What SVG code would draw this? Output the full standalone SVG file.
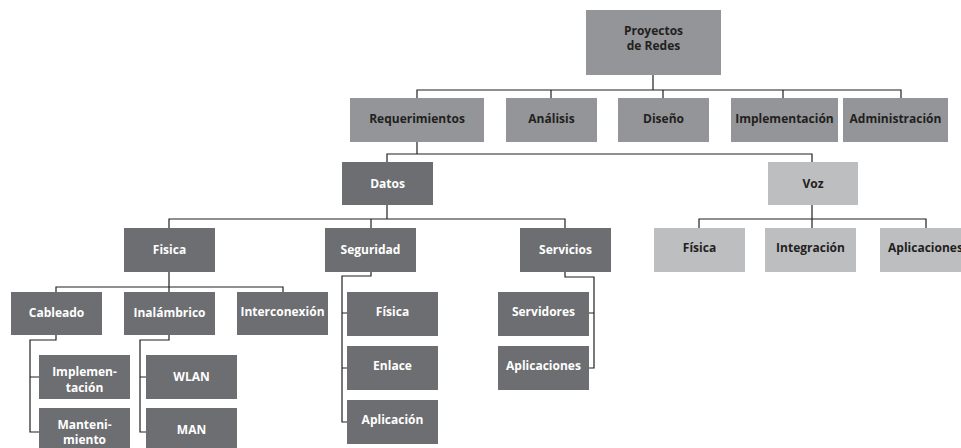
<svg xmlns="http://www.w3.org/2000/svg" width="961" height="448" viewBox="0 0 961 448">
<style>
  .mid { fill: #939598; }
  .dark { fill: #6d6e71; }
  .light { fill: #bcbec0; }
  text { font-family: "Open Sans", "Noto Sans", "Liberation Sans", sans-serif; font-weight: bold; font-size: 12px; text-anchor: middle; }
  .tb { fill: #231f20; }
  .tw { fill: #ffffff; }
  .conn { fill: none; stroke: #231f20; stroke-width: 1.2; }
</style>
<rect width="961" height="448" fill="#ffffff"/>
<g id="connectors" class="conn">
  <path d="M653,75 V90 M417,98 V90 H901 V98 M551,90 V98 M663,90 V98 M783,90 V98"/>
  <path d="M417,142 V154 M387,162 V154 H812 V162"/>
  <path d="M387,205 V219 M169,228 V219 H565 V228 M371,219 V228"/>
  <path d="M812,205 V219 M699,228 V219 H926 V228 M812,219 V228"/>
  <path d="M169,271 V287 M56,292 V287 H283 V292 M169,287 V292"/>
  <path d="M56,335 V340 H30 V432 H39 M30,377 H39"/>
  <path d="M169,335 V340 H140 V432 H146 M140,377 H146"/>
  <path d="M371,272 V276 H342 V422 H347 M342,313 H347 M342,368 H347"/>
  <path d="M565,272 V277 H594 V368 H589 M594,313 H589"/>
</g>
<g id="proyectos"><rect class="mid" x="586" y="10" width="135" height="65"/><text class="tb" x="653.5" y="34.5">Proyectos</text><text class="tb" x="653.5" y="50">de Redes</text></g>
<g id="requerimientos"><rect class="mid" x="350" y="98" width="134" height="44"/><text class="tb" x="417" y="123">Requerimientos</text></g>
<g id="analisis"><rect class="mid" x="506" y="98" width="91" height="44"/><text class="tb" x="551.5" y="123">Análisis</text></g>
<g id="diseno"><rect class="mid" x="618" y="98" width="91" height="44"/><text class="tb" x="663.5" y="123">Diseño</text></g>
<g id="implementacion"><rect class="mid" x="731" y="98" width="107" height="44"/><text class="tb" x="784.5" y="123">Implementación</text></g>
<g id="administracion"><rect class="mid" x="843" y="98" width="105" height="44"/><text class="tb" x="895.5" y="123">Administración</text></g>
<g id="datos"><rect class="dark" x="342" y="162" width="91" height="43"/><text class="tw" x="387.5" y="187.5">Datos</text></g>
<g id="voz"><rect class="light" x="768" y="162" width="90" height="43"/><text class="tb" x="813" y="187.5">Voz</text></g>
<g id="fisica"><rect class="dark" x="124" y="228" width="91" height="44"/><text class="tw" x="169.5" y="253.5">Fisica</text></g>
<g id="seguridad"><rect class="dark" x="325" y="228" width="91" height="44"/><text class="tw" x="370.5" y="253.5">Seguridad</text></g>
<g id="servicios"><rect class="dark" x="520" y="228" width="91" height="44"/><text class="tw" x="565.5" y="253.5">Servicios</text></g>
<g id="voz-fisica"><rect class="light" x="654" y="228" width="91" height="44"/><text class="tb" x="699.5" y="252">Física</text></g>
<g id="voz-integracion"><rect class="light" x="765" y="228" width="91" height="44"/><text class="tb" x="810.5" y="252">Integración</text></g>
<g id="voz-aplicaciones"><rect class="light" x="880" y="228" width="91" height="44"/><text class="tb" x="925.5" y="252">Aplicaciones</text></g>
<g id="cableado"><rect class="dark" x="11" y="292" width="91" height="43"/><text class="tw" x="56.5" y="317">Cableado</text></g>
<g id="inalambrico"><rect class="dark" x="124" y="292" width="91" height="43"/><text class="tw" x="169.5" y="317">Inalámbrico</text></g>
<g id="interconexion"><rect class="dark" x="237" y="292" width="91" height="43"/><text class="tw" x="282.5" y="316">Interconexión</text></g>
<g id="cab-implementacion"><rect class="dark" x="39" y="355" width="91" height="44"/><text class="tw" x="84.5" y="376">Implemen-</text><text class="tw" x="84.5" y="391.5">tación</text></g>
<g id="cab-mantenimiento"><rect class="dark" x="39" y="408" width="91" height="44"/><text class="tw" x="84.5" y="428.5">Manteni-</text><text class="tw" x="84.5" y="444">miento</text></g>
<g id="wlan"><rect class="dark" x="146" y="355" width="91" height="44"/><text class="tw" x="191.5" y="380.5">WLAN</text></g>
<g id="man"><rect class="dark" x="146" y="408" width="91" height="44"/><text class="tw" x="191.5" y="433.5">MAN</text></g>
<g id="seg-fisica"><rect class="dark" x="347" y="292" width="91" height="44"/><text class="tw" x="392.5" y="316">Física</text></g>
<g id="seg-enlace"><rect class="dark" x="347" y="346" width="91" height="44"/><text class="tw" x="392.5" y="370">Enlace</text></g>
<g id="seg-aplicacion"><rect class="dark" x="347" y="400" width="91" height="44"/><text class="tw" x="392.5" y="424">Aplicación</text></g>
<g id="servidores"><rect class="dark" x="498" y="292" width="91" height="44"/><text class="tw" x="543.5" y="316">Servidores</text></g>
<g id="serv-aplicaciones"><rect class="dark" x="498" y="346" width="91" height="44"/><text class="tw" x="543.5" y="370">Aplicaciones</text></g>
</svg>
